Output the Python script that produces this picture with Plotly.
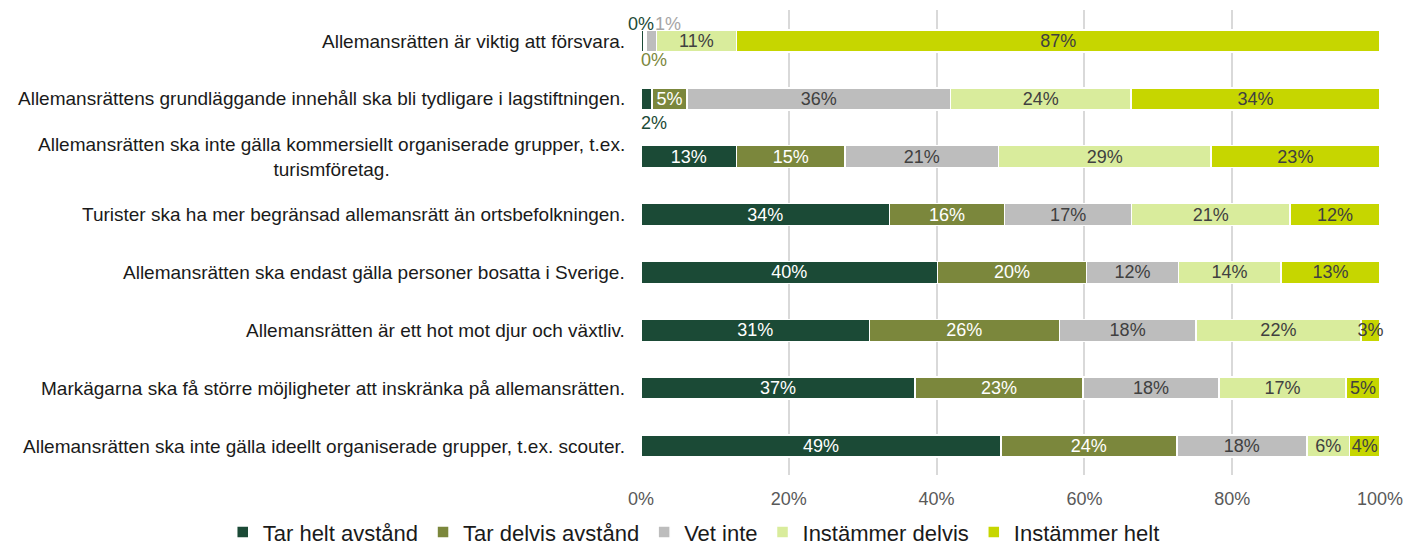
import plotly.graph_objects as go

categories = [
    "Allemansrätten är viktig att försvara.",
    "Allemansrättens grundläggande innehåll ska bli tydligare i lagstiftningen.",
    "Allemansrätten ska inte gälla kommersiellt organiserade grupper, t.ex.<br>turismföretag.",
    "Turister ska ha mer begränsad allemansrätt än ortsbefolkningen.",
    "Allemansrätten ska endast gälla personer bosatta i Sverige.",
    "Allemansrätten är ett hot mot djur och växtliv.",
    "Markägarna ska få större möjligheter att inskränka på allemansrätten.",
    "Allemansrätten ska inte gälla ideellt organiserade grupper, t.ex. scouter.",
]

series_names = ["Tar helt avstånd", "Tar delvis avstånd", "Vet inte", "Instämmer delvis", "Instämmer helt"]

tar_helt = [0.004, 0.015, 0.129, 0.336, 0.401, 0.309, 0.371, 0.487]
tar_delvis = [0.003, 0.047, 0.147, 0.156, 0.202, 0.257, 0.227, 0.238]
vet_inte = [0.014, 0.357, 0.208, 0.172, 0.124, 0.185, 0.184, 0.176]
instammer_delvis = [0.108, 0.244, 0.287, 0.214, 0.139, 0.223, 0.172, 0.058]
instammer_helt = [0.871, 0.337, 0.229, 0.122, 0.134, 0.026, 0.046, 0.041]

colors = ["#1B4A36", "#7B873C", "#BDBDBD", "#D9EC9C", "#C6D600"]
text_colors = ["white", "white", "#404040", "#404040", "#404040"]

all_series = [tar_helt, tar_delvis, vet_inte, instammer_delvis, instammer_helt]
FONT = "Liberation Sans, Arial"

fig = go.Figure()
for si, (name, vals) in enumerate(zip(series_names, all_series)):
    texts = []
    for ci, v in enumerate(vals):
        # tiny segments are labelled outside via annotations
        if (ci == 0 and si in (0, 1, 2)) or (ci == 1 and si == 0):
            texts.append("")
        else:
            texts.append(f"{round(v*100):.0f}%")
    fig.add_trace(go.Bar(
        y=categories, x=vals, name=name, orientation="h",
        marker=dict(color=colors[si], line=dict(color="white", width=1.5)),
        text=texts, textposition="inside", insidetextanchor="middle",
        textangle=0,
        textfont=dict(color=text_colors[si], size=18, family=FONT),
        constraintext="none", cliponaxis=False,
        hoverinfo="skip",
    ))

def cum(ci, si):
    return sum(all_series[k][ci] for k in range(si))

# (row, series, xshift, yshift)
ann_specs = [
    (0, 0, -1, 17),
    (0, 2, 17, 17),
    (0, 1, 9, -19),
    (1, 0, 7, -24),
]
for ci, si, dx, dy in ann_specs:
    v = all_series[si][ci]
    fig.add_annotation(
        x=cum(ci, si) + v / 2, y=categories[ci], xref="x", yref="y",
        text=f"{round(v*100):.0f}%", showarrow=False, xshift=dx, yshift=dy,
        font=dict(color=colors[si] if si != 2 else "#A6A6A6", size=18, family=FONT),
    )

# category labels
for c in categories:
    fig.add_annotation(
        x=0, xref="paper", y=c, yref="y", text=c, showarrow=False,
        xanchor="right", align="center", xshift=-14,
        font=dict(size=19, family=FONT, color="#1A1A1A"),
    )

fig.update_layout(
    barmode="stack",
    bargap=0.62,
    width=1406, height=545,
    margin=dict(l=641, r=26, t=10, b=70, autoexpand=False),
    plot_bgcolor="white", paper_bgcolor="white",
    font=dict(family=FONT, size=18, color="#262626"),
    uniformtext=dict(mode="show", minsize=18),
    legend=dict(
        orientation="h", x=-0.566, xref="paper", xanchor="left",
        y=-0.078, yref="paper", yanchor="top",
        font=dict(size=22, family=FONT, color="#1A1A1A"),
        traceorder="normal", itemwidth=30, tracegroupgap=0,
    ),
    showlegend=True,
)
fig.update_xaxes(
    range=[0, 1.00001], tickformat=".0%", tickvals=[0, 0.2, 0.4, 0.6, 0.8, 1.0],
    showgrid=True, gridcolor="#D9D9D9", gridwidth=2,
    zeroline=False, showline=False, automargin=False,
    tickfont=dict(size=18, color="#595959", family=FONT),
    ticklabelstandoff=11,
)
fig.update_yaxes(
    autorange="reversed", showgrid=False, zeroline=False, showline=False,
    showticklabels=False, automargin=False,
)

fig.write_html("out.html", post_script="document.body.style.margin='0px';",
               config={"displayModeBar": False})
